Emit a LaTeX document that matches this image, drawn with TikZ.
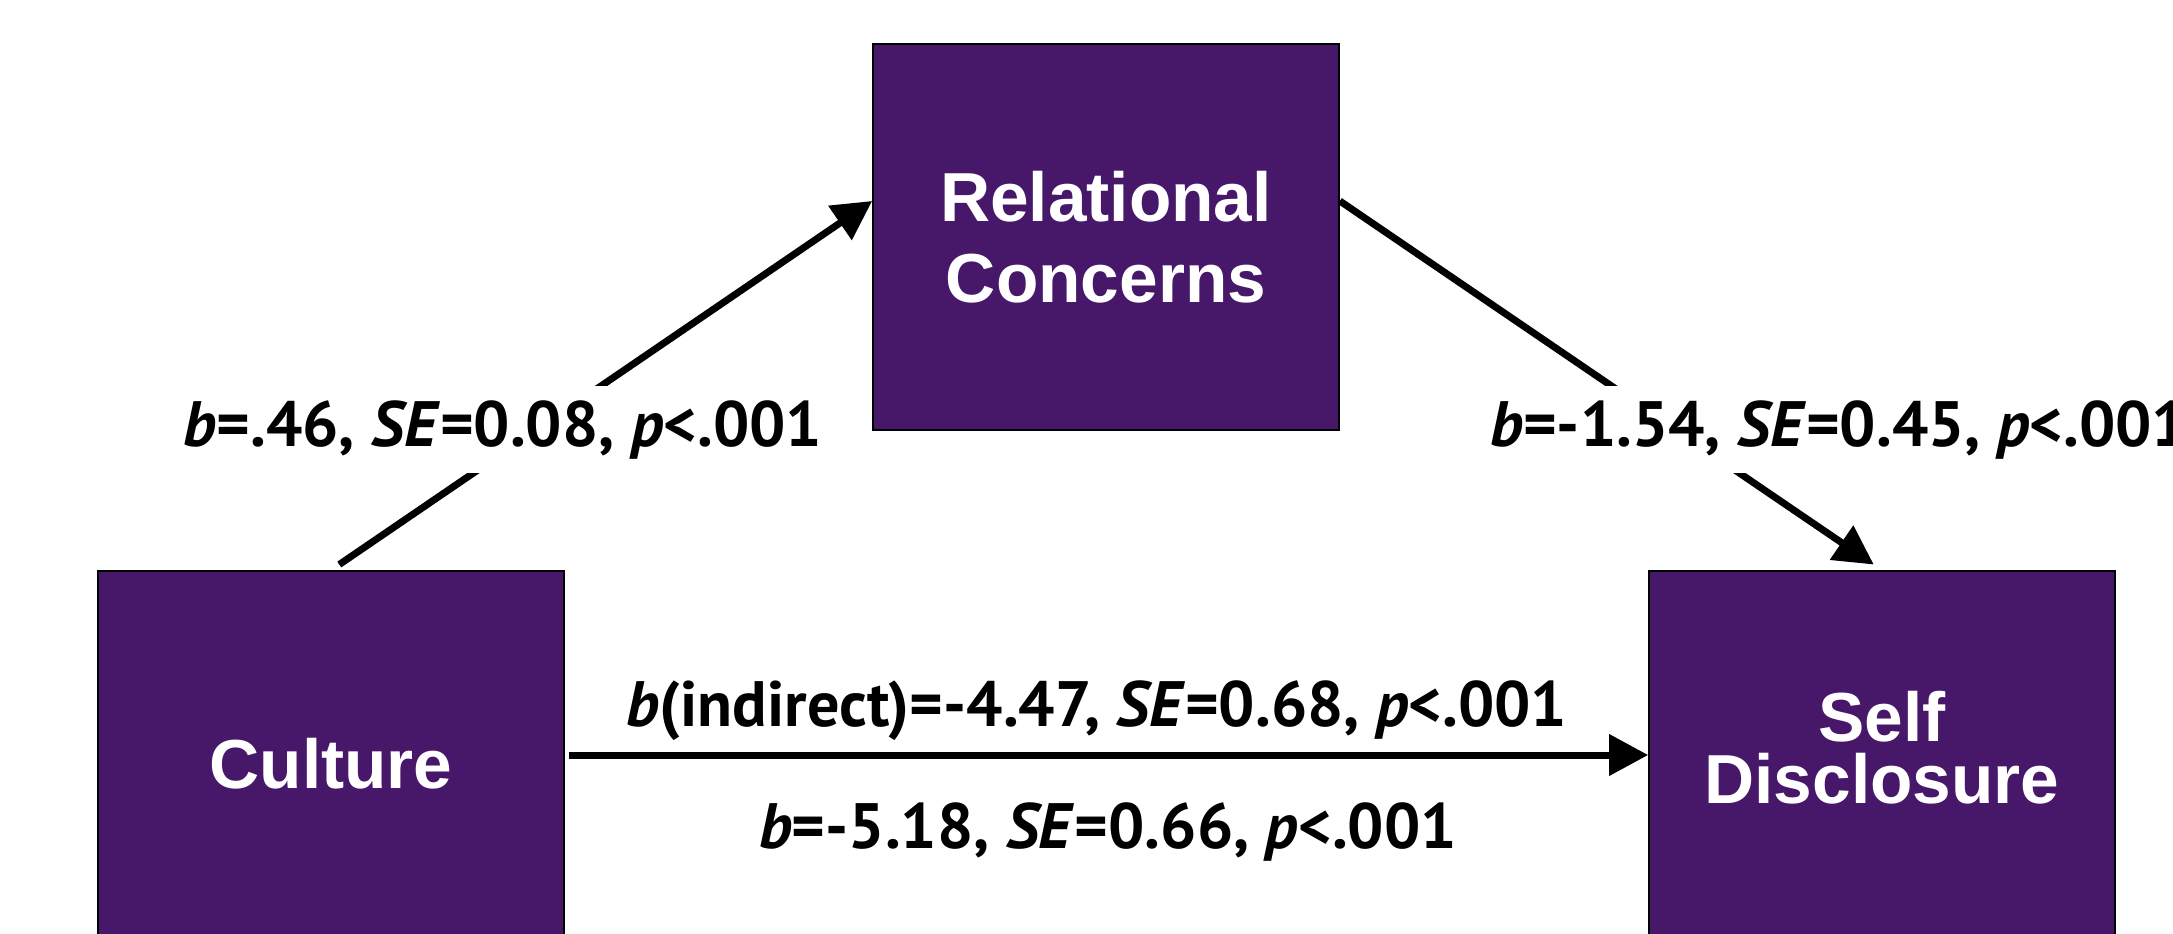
\documentclass[tikz,border=0pt]{standalone}
\usepackage{fontspec}
\setmainfont{Liberation Sans}
\newfontfamily\statfont{PT Sans}
\usetikzlibrary{arrows.meta}
\definecolor{boxpurple}{RGB}{71,23,106}

\tikzset{
	var/.style={draw=black, line width=1pt, fill=boxpurple, text=white, align=center,
		minimum width=9.32cm, minimum height=7.72cm, inner sep=0pt},
	stat/.style={fill=white, inner sep=0.28cm, font=\fontsize{36.5}{40}\selectfont\statfont\bfseries},
	effect/.style={-{Triangle[length=0.78cm,width=0.8cm]}, line width=0.14cm}
}

\begin{document}
\begin{tikzpicture}[x=0.02cm, y=-0.02cm]
	\useasboundingbox (0,0) rectangle (2173,933);
	\clip (0,0) rectangle (2173,933);
	% Variables
	\node[var, font=\fontsize{39.5}{46}\selectfont\bfseries] (rel) at (1106,237) {Relational\\Concerns};
	\node[var, font=\fontsize{39.5}{44}\selectfont\bfseries] (cult) at (331,764) {Culture};
	\node[var, font=\fontsize{39.5}{35}\selectfont\bfseries, text depth=0.66cm] (self) at (1882,764) {Self\\Disclosure};
	% Paths
	\draw[effect, shorten <=0.2cm] (cult.north) -- ([yshift=0.72cm]rel.west);
	\draw[effect, shorten >=0.2cm] ([yshift=0.72cm]rel.east) -- (self.north);
	\draw[effect, shorten <=0.08cm] ([yshift=0.18cm]cult.east) -- ([yshift=0.18cm]self.west);
	% Coefficients
	\node[stat, anchor=base] (a) at (503,446) {\textit{b}=.46, \textit{SE}=0.08, \textit{p}<.001};
	\node[stat, anchor=base west] (b) at (1476,446) {\textit{b}=-1.54, \textit{SE}=0.45, \textit{p}<.001};
	\node[stat, fill=none, anchor=base] (ind) at (1097,726) {\textit{b}(indirect)=-4.47, \textit{SE}=0.68, \textit{p}<.001};
	\node[stat, fill=none, anchor=base] (c) at (1108,848) {\textit{b}=-5.18, \textit{SE}=0.66, \textit{p}<.001};
\end{tikzpicture}
\end{document}
